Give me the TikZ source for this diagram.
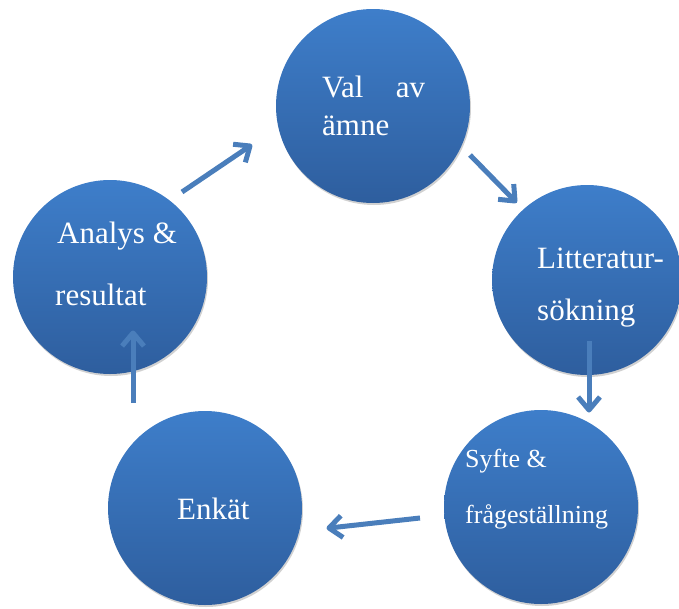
\documentclass[tikz,border=0pt]{standalone}
\usepackage{fontspec}
\setmainfont{Liberation Serif}
\usetikzlibrary{calc,shadows}
\definecolor{ctop}{RGB}{62,126,202}
\definecolor{cbot}{RGB}{46,94,158}
\definecolor{arr}{RGB}{74,126,187}
\tikzset{
  bubble/.style={circle, minimum size=#1, inner sep=0pt, top color=ctop, bottom color=cbot,
    drop shadow={shadow xshift=1pt, shadow yshift=-2pt, opacity=0.18, fill=black}},
  lbl/.style={anchor=base west, inner sep=0pt, text=white, font=\fontsize{31}{37}\selectfont},
  lblsmall/.style={anchor=base west, inner sep=0pt, text=white, font=\fontsize{26}{31}\selectfont},
  flow/.style={draw=arr, line width=5pt, line join=round}
}
\newcommand{\flowarrow}[2]{%
  \draw[flow] (#1) -- (#2);
  \draw[flow] ($(#2)!17pt!40:(#1)$) -- (#2) -- ($(#2)!17pt!-40:(#1)$);
}
\begin{document}
\begin{tikzpicture}[x=1pt,y=-1pt]
\useasboundingbox (0,0) rectangle (679,608);
% circles
\node[bubble=194pt] (val) at (373,106) {};
\node[bubble=190pt] (lit) at (587,280) {};
\node[bubble=194pt] (syf) at (541,507) {};
\node[bubble=194pt] (enk) at (205,508) {};
\node[bubble=194pt] (ana) at (110,277) {};
% texts
\node[lbl] (t1) at (322,97) {\makebox[103pt][s]{Val av}};
\node[lbl] (t2) at (322,135) {ämne};
\node[lbl] (t3) at (537,268) {Litteratur-};
\node[lbl] (t4) at (537,320) {sökning};
\node[lblsmall] (t5) at (465,467) {Syfte \&};
\node[lblsmall] (t6) at (465,523) {frågeställning};
\node[lbl] (t7) at (177,519) {Enkät};
\node[lbl] (t8) at (57,243) {Analys \&};
\node[lbl] (t9) at (55,305) {resultat};
% arrow end points
\coordinate (a1) at (182,192); \coordinate (a2) at (250,146);
\coordinate (b1) at (470,155); \coordinate (b2) at (515,201);
\coordinate (c1) at (589,341); \coordinate (c2) at (589,410);
\coordinate (d1) at (420,518); \coordinate (d2) at (329,528);
\coordinate (e1) at (133,403); \coordinate (e2) at (133,333);
\flowarrow{a1}{a2}
\flowarrow{b1}{b2}
\flowarrow{c1}{c2}
\flowarrow{d1}{d2}
\flowarrow{e1}{e2}
\end{tikzpicture}
\end{document}
